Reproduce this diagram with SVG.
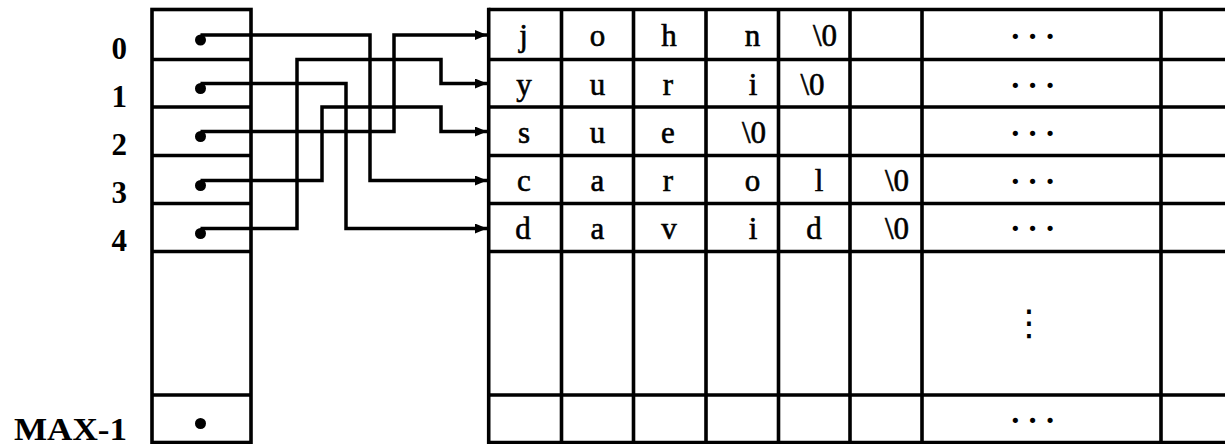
<svg xmlns="http://www.w3.org/2000/svg" width="1225" height="444" viewBox="0 0 1225 444">
<defs>
<style>
.ln{stroke:#000;stroke-width:3.6;fill:none}
.cn{stroke:#000;stroke-width:3.5;fill:none;marker-end:url(#ah)}
.lab{font-family:"Liberation Serif",serif;font-weight:bold;font-size:31px;text-anchor:end;fill:#000}
.ch{font-family:"Liberation Serif",serif;font-size:31px;text-anchor:middle;fill:#000;stroke:#000;stroke-width:0.6px}
.el{font-family:"Liberation Serif",serif;font-weight:bold;font-size:32px;letter-spacing:6.7px;fill:#000}
.vel{font-family:"DejaVu Sans",sans-serif;font-size:36px;text-anchor:middle;fill:#000}
.dot{fill:#000}
</style>
<marker id="ah" markerUnits="userSpaceOnUse" markerWidth="13" markerHeight="11" refX="12" refY="5" orient="auto">
<path d="M0,0 L12,5 L0,10 z" fill="#000"/>
</marker>
</defs>
<rect width="1225" height="444" fill="#fff"/>
<g id="labels">
<text class="lab" x="127" y="59">0</text>
<text class="lab" x="127" y="107">1</text>
<text class="lab" x="127" y="155">2</text>
<text class="lab" x="127" y="203">3</text>
<text class="lab" x="127" y="251">4</text>
<text class="lab" x="127" y="440" textLength="113" lengthAdjust="spacingAndGlyphs">MAX-1</text>
</g>
<g id="pointer-array">
<rect class="ln" x="152" y="9.5" width="99" height="433"/>
<path class="ln" d="M152,59.5H251M152,107H251M152,155.5H251M152,203.5H251M152,251.5H251M152,395H251"/>
<circle class="dot" cx="200.5" cy="40" r="5.5"/>
<circle class="dot" cx="200.5" cy="88.5" r="5.5"/>
<circle class="dot" cx="200.5" cy="136.5" r="5.5"/>
<circle class="dot" cx="200.5" cy="185.5" r="5.5"/>
<circle class="dot" cx="200.5" cy="233.5" r="5.5"/>
<circle class="dot" cx="200.5" cy="423.5" r="5.5"/>
</g>
<g id="char-array">
<path class="ln" d="M488.7,9.5H1225M488.7,59.5H1225M488.7,107H1225M488.7,155.5H1225M488.7,203.5H1225M488.7,251.5H1225M488.7,395H1225M488.7,442.5H1225"/>
<path class="ln" d="M488.7,7.7V444M561.5,9.5V444M633.5,9.5V444M706,9.5V444M778.5,9.5V444M850,9.5V444M922,9.5V444M1161,9.5V444"/>
<text class="ch" x="523.5" y="45.5">j</text>
<text class="ch" x="597.5" y="45.5">o</text>
<text class="ch" x="669" y="45.5">h</text>
<text class="ch" x="752.5" y="45.5">n</text>
<text class="ch" x="825" y="45.5">\0</text>
<text class="el" x="1010" y="47">···</text>
<text class="ch" x="524" y="94.5">y</text>
<text class="ch" x="597.5" y="94.5">u</text>
<text class="ch" x="668" y="94.5">r</text>
<text class="ch" x="753" y="94.5">i</text>
<text class="ch" x="812.5" y="94.5">\0</text>
<text class="el" x="1010" y="95.5">···</text>
<text class="ch" x="524" y="142.5">s</text>
<text class="ch" x="597.5" y="142.5">u</text>
<text class="ch" x="668" y="142.5">e</text>
<text class="ch" x="754" y="142.5">\0</text>
<text class="el" x="1010" y="143.5">···</text>
<text class="ch" x="524" y="191">c</text>
<text class="ch" x="597.5" y="191">a</text>
<text class="ch" x="668" y="191">r</text>
<text class="ch" x="752.5" y="191">o</text>
<text class="ch" x="819" y="191">l</text>
<text class="ch" x="897" y="191">\0</text>
<text class="el" x="1010" y="191.5">···</text>
<text class="ch" x="523" y="239">d</text>
<text class="ch" x="597.5" y="239">a</text>
<text class="ch" x="669" y="239">v</text>
<text class="ch" x="753" y="239">i</text>
<text class="ch" x="814" y="239">d</text>
<text class="ch" x="897" y="239">\0</text>
<text class="el" x="1010" y="239">···</text>
<text class="vel" x="1029" y="335">⋮</text>
<text class="el" x="1010" y="431">···</text>
</g>
<g id="connectors">
<path class="cn" d="M200.5,35H370V180.5H487"/>
<path class="cn" d="M200.5,83.5H346V228.5H487"/>
<path class="cn" d="M200.5,131.5H394V35H487"/>
<path class="cn" d="M200.5,180.5H322V107H441V131.5H487"/>
<path class="cn" d="M200.5,228.5H297V59.5H441V83.5H487"/>
</g>
</svg>
